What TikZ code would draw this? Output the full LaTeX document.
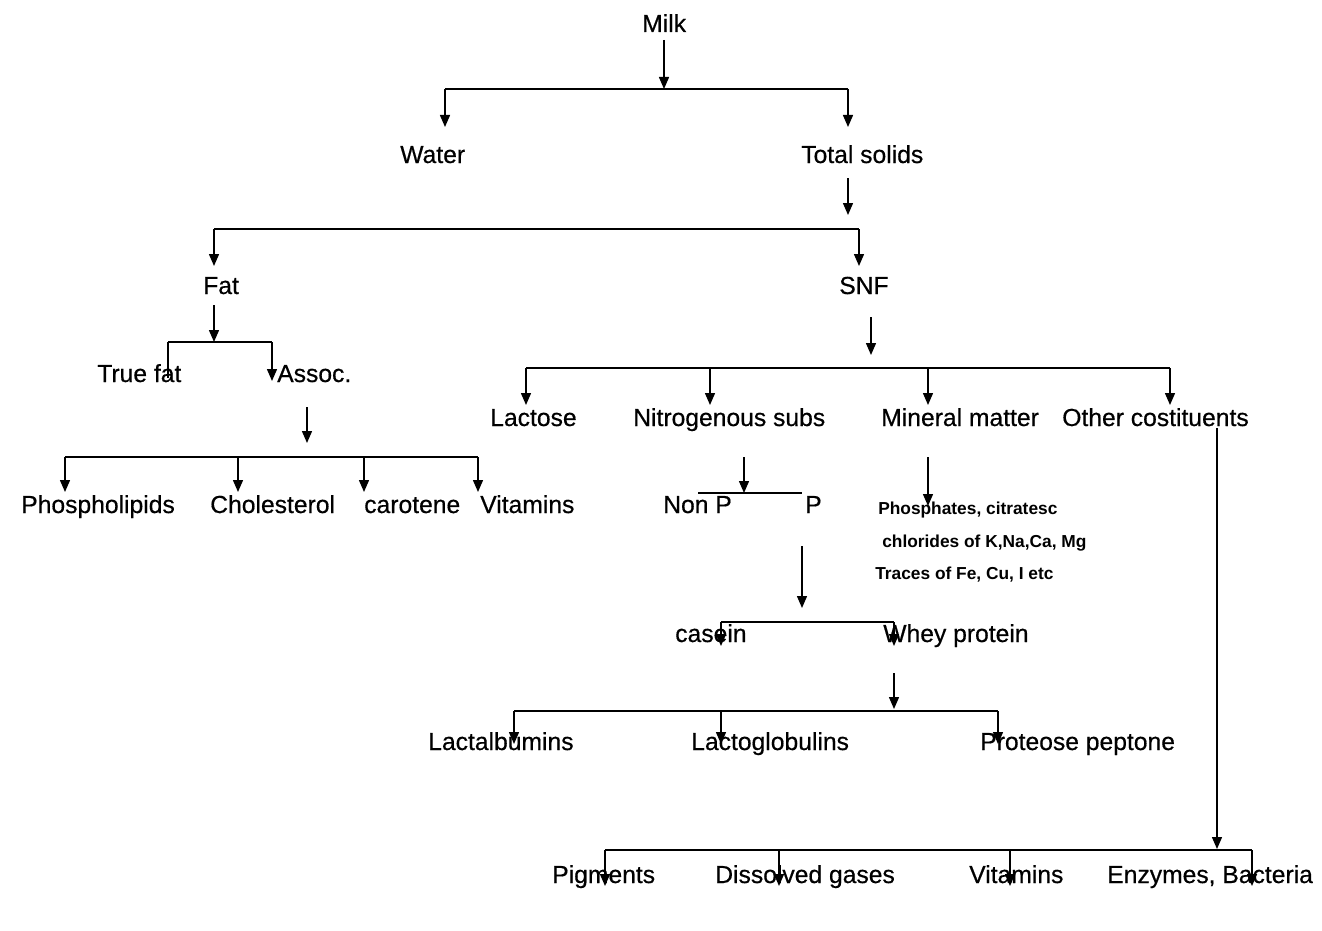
\documentclass[tikz,border=0pt]{standalone}
\usepackage{fontspec}
\setmainfont{Liberation Sans}
\newfontfamily\lblfont{Liberation Sans}[FakeBold=0.5]
\usetikzlibrary{arrows.meta}
\tikzset{
  lbl/.style={anchor=base west, inner sep=0pt, font=\lblfont\fontsize{18.5}{21}\selectfont},
  minl/.style={anchor=base west, inner sep=0pt, font=\fontsize{13}{15}\selectfont\bfseries},
  ln/.style={line width=1.1pt, black},
  arr/.style={ln, -{Triangle[length=9pt,width=7.5pt]}},
}
\begin{document}
\begin{tikzpicture}[x=0.75pt,y=-0.75pt]
\useasboundingbox (0,0) rectangle (1322,931);
% ---------- labels ----------
\node[lbl] (milk) at (642,32) {Milk};
\node[lbl] (water) at (400,163) {Water};
\node[lbl] (ts) at (801,163) {Total solids};
\node[lbl] (fat) at (203,294) {Fat};
\node[lbl] (snf) at (839,294) {SNF};
\node[lbl] (truefat) at (97,382) {True fat};
\node[lbl] (assoc) at (277,382) {Assoc.};
\node[lbl] (phos) at (21,513) {Phospholipids};
\node[lbl] (chol) at (210,513) {Cholesterol};
\node[lbl] (carot) at (364,513) {carotene};
\node[lbl] (vit1) at (480,513) {Vitamins};
\node[lbl] (lact) at (490,426) {Lactose};
\node[lbl] (nitro) at (633,426) {Nitrogenous subs};
\node[lbl] (mineral) at (881,426) {Mineral matter};
\node[lbl] (other) at (1062,426) {Other costituents};
\node[lbl] (nonp) at (663,513) {Non P};
\node[lbl] (p) at (805,513) {P};
\node[minl] (min1) at (878,514) {Phosphates, citratesc};
\node[minl] (min2) at (882,547) {chlorides of K,Na,Ca, Mg};
\node[minl] (min3) at (875,579) {Traces of Fe, Cu, I etc};
\node[lbl] (casein) at (675,642) {casein};
\node[lbl] (whey) at (883,642) {Whey protein};
\node[lbl] (lalb) at (428,750) {Lactalbumins};
\node[lbl] (lglob) at (691,750) {Lactoglobulins};
\node[lbl] (prot) at (980,750) {Proteose peptone};
\node[lbl] (pig) at (552,883) {Pigments};
\node[lbl] (gas) at (715,883) {Dissolved gases};
\node[lbl] (vit2) at (969,883) {Vitamins};
\node[lbl] (enz) at (1107,883) {Enzymes, Bacteria};
% ---------- junction coordinates ----------
\coordinate (a1) at (664,40);   \coordinate (a2) at (664,89);
\coordinate (b1) at (445,89);   \coordinate (b2) at (848,89);
\coordinate (b1e) at (445,127); \coordinate (b2e) at (848,127);
\coordinate (c1) at (848,178);  \coordinate (c2) at (848,215);
\coordinate (d1) at (214,229);  \coordinate (d2) at (859,229);
\coordinate (d1e) at (214,266); \coordinate (d2e) at (859,266);
\coordinate (e1) at (214,305);  \coordinate (e2) at (214,342);
\coordinate (f1) at (168,342);  \coordinate (f2) at (272,342);
\coordinate (f1e) at (168,378); \coordinate (f2e) at (272,381);
\coordinate (g1) at (307,407);  \coordinate (g2) at (307,443);
\coordinate (h1) at (65,457);   \coordinate (h2) at (238,457);
\coordinate (h3) at (364,457);  \coordinate (h4) at (478,457);
\coordinate (h1e) at (65,492);  \coordinate (h2e) at (238,492);
\coordinate (h3e) at (364,492); \coordinate (h4e) at (478,492);
\coordinate (i1) at (871,317);  \coordinate (i2) at (871,355);
\coordinate (j1) at (526,368);  \coordinate (j2) at (710,368);
\coordinate (j3) at (928,368);  \coordinate (j4) at (1170,368);
\coordinate (j1e) at (526,405); \coordinate (j2e) at (710,405);
\coordinate (j3e) at (928,405); \coordinate (j4e) at (1170,405);
\coordinate (k1) at (744,457);  \coordinate (k2) at (744,493);
\coordinate (k3) at (698,493);  \coordinate (k4) at (802,493);
\coordinate (l1) at (928,457);  \coordinate (l2) at (928,506);
\coordinate (m1) at (802,546);  \coordinate (m2) at (802,608);
\coordinate (n1) at (721,622);  \coordinate (n2) at (894,622);
\coordinate (n1e) at (721,646); \coordinate (n2e) at (894,646);
\coordinate (o1) at (894,673);  \coordinate (o2) at (894,709);
\coordinate (q1) at (514,711);  \coordinate (q2) at (721,711);
\coordinate (q3) at (998,711);
\coordinate (q1e) at (514,744); \coordinate (q2e) at (721,744);
\coordinate (q3e) at (998,744);
\coordinate (r1) at (1217,428); \coordinate (r2) at (1217,849);
\coordinate (s1) at (605,850);  \coordinate (s2) at (779,850);
\coordinate (s3) at (1010,850); \coordinate (s4) at (1252,850);
\coordinate (s1e) at (605,886); \coordinate (s2e) at (779,886);
\coordinate (s3e) at (1010,886);\coordinate (s4e) at (1252,886);
% ---------- connectors ----------
\draw[arr] (a1) -- (a2);
\draw[ln] (b1) -- (b2);
\draw[arr] (b1) -- (b1e);
\draw[arr] (b2) -- (b2e);
\draw[arr] (c1) -- (c2);
\draw[ln] (d1) -- (d2);
\draw[arr] (d1) -- (d1e);
\draw[arr] (d2) -- (d2e);
\draw[arr] (e1) -- (e2);
\draw[ln] (f1) -- (f2);
\draw[ln] (f1) -- (f1e);
\draw[arr] (f2) -- (f2e);
\draw[arr] (g1) -- (g2);
\draw[ln] (h1) -- (h4);
\draw[arr] (h1) -- (h1e);
\draw[arr] (h2) -- (h2e);
\draw[arr] (h3) -- (h3e);
\draw[arr] (h4) -- (h4e);
\draw[arr] (i1) -- (i2);
\draw[ln] (j1) -- (j4);
\draw[arr] (j1) -- (j1e);
\draw[arr] (j2) -- (j2e);
\draw[arr] (j3) -- (j3e);
\draw[arr] (j4) -- (j4e);
\draw[arr] (k1) -- (k2);
\draw[ln] (k3) -- (k4);
\draw[arr] (l1) -- (l2);
\draw[arr] (m1) -- (m2);
\draw[ln] (n1) -- (n2);
\draw[arr] (n1) -- (n1e);
\draw[arr] (n2) -- (n2e);
\draw[arr] (o1) -- (o2);
\draw[ln] (q1) -- (q3);
\draw[arr] (q1) -- (q1e);
\draw[arr] (q2) -- (q2e);
\draw[arr] (q3) -- (q3e);
\draw[arr] (r1) -- (r2);
\draw[ln] (s1) -- (s4);
\draw[arr] (s1) -- (s1e);
\draw[arr] (s2) -- (s2e);
\draw[arr] (s3) -- (s3e);
\draw[arr] (s4) -- (s4e);
\end{tikzpicture}
\end{document}
